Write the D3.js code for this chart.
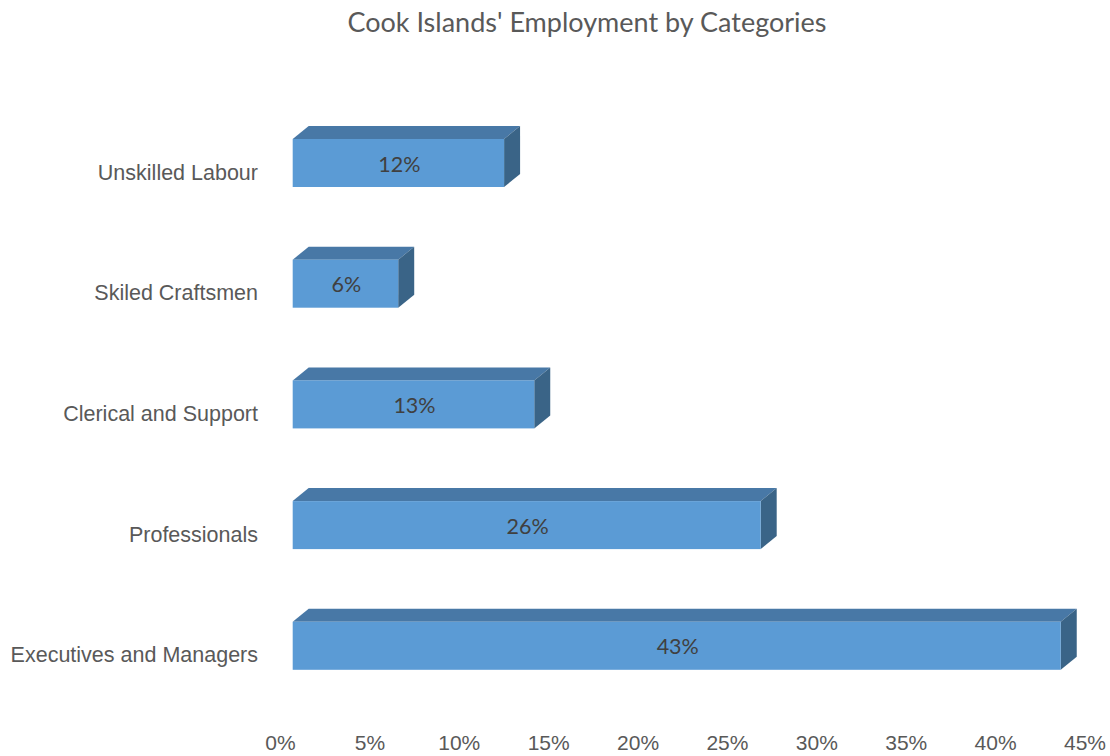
<!DOCTYPE html>
<html>
<head>
<meta charset="utf-8">
<script src="https://cdn.jsdelivr.net/npm/d3@7"></script>
<style>
  body { margin: 0; background: #fff; }
  svg { display: block; font-family: Lato, "Open Sans", sans-serif; }
</style>
</head>
<body>
<svg width="1110" height="756"></svg>
<script>
// categories top to bottom, share of employment
var categories = ["Unskilled Labour", "Skiled Craftsmen", "Clerical and Support", "Professionals", "Executives and Managers"];
var shares = [0.1178, 0.0588, 0.1346, 0.2608, 0.4280];
var tickValues = [0, 0.05, 0.10, 0.15, 0.20, 0.25, 0.30, 0.35, 0.40, 0.45];

var svg = d3.select("svg"),
    width = +svg.attr("width"),
    height = +svg.attr("height");

var data = categories.map(function(c, i) { return {cat: c, v: shares[i]}; });

// front face of the bars
var x = d3.scaleLinear()
    .domain([0, 0.45])
    .range([292.7, 292.7 + 0.45 * 1794.5]);

// the axis labels sit on the projected floor, a bit left of the front face
var xAxisScale = d3.scaleLinear()
    .domain([0, 0.45])
    .range([280, 1084.5]);

var y = d3.scaleBand()
    .domain(categories)
    .range([102.65, 102.65 + 5 * 120.7])
    .paddingInner(0.6023)
    .paddingOuter(0.30115);

var dx = 16, dy = 13;

svg.append("text")
    .attr("x", 587)
    .attr("y", 32)
    .attr("text-anchor", "middle")
    .attr("fill", "#595959")
    .style("font-size", "27px")
    .text("Cook Islands' Employment by Categories");

var bar = svg.selectAll(".bar")
  .data(data)
  .enter().append("g")
    .attr("class", "bar");

// top face
bar.append("path")
    .attr("fill", "#4878A6")
    .attr("d", function(d) {
      var x0 = x(0), x1 = x(d.v), t = y(d.cat);
      return "M" + x0 + "," + t + "L" + (x0 + dx) + "," + (t - dy) +
             "L" + (x1 + dx) + "," + (t - dy) + "L" + x1 + "," + t + "Z";
    });

// right side
bar.append("path")
    .attr("fill", "#3A6487")
    .attr("d", function(d) {
      var x1 = x(d.v), t = y(d.cat), b = t + y.bandwidth();
      return "M" + x1 + "," + t + "L" + (x1 + dx) + "," + (t - dy) +
             "L" + (x1 + dx) + "," + (b - dy) + "L" + x1 + "," + b + "Z";
    });

// front
bar.append("rect")
    .attr("x", x(0))
    .attr("y", function(d) { return y(d.cat); })
    .attr("width", function(d) { return x(d.v) - x(0); })
    .attr("height", y.bandwidth())
    .attr("fill", "#5B9BD5");

bar.append("text")
    .attr("x", function(d) { return (x(0) + x(d.v)) / 2 + 1; })
    .attr("y", function(d) { return y(d.cat) + y.bandwidth() / 2 + 1; })
    .attr("dy", "0.35em")
    .attr("text-anchor", "middle")
    .attr("fill", "#404040")
    .style("font-size", "21.5px")
    .text(function(d) { return d3.format(".0%")(d.v); });

// category labels
var yAxis = svg.append("g")
    .attr("transform", "translate(258,9)")
    .call(d3.axisLeft(y).tickSize(0).tickPadding(0));
yAxis.select(".domain").remove();
yAxis.selectAll("text")
    .attr("fill", "#595959")
    .attr("dy", "0.35em")
    .style("font-size", "21.5px")
    .style("font-family", null);

// value labels along the bottom
var xAxis = svg.append("g")
    .attr("transform", "translate(0,733)")
    .call(d3.axisBottom(xAxisScale).tickValues(tickValues).tickFormat(d3.format(".0%")).tickSize(0).tickPadding(0));
xAxis.select(".domain").remove();
xAxis.selectAll("text")
    .attr("fill", "#595959")
    .attr("dy", "0.35em")
    .attr("y", 10)
    .style("font-size", "21px")
    .style("font-family", null);
</script>
</body>
</html>
